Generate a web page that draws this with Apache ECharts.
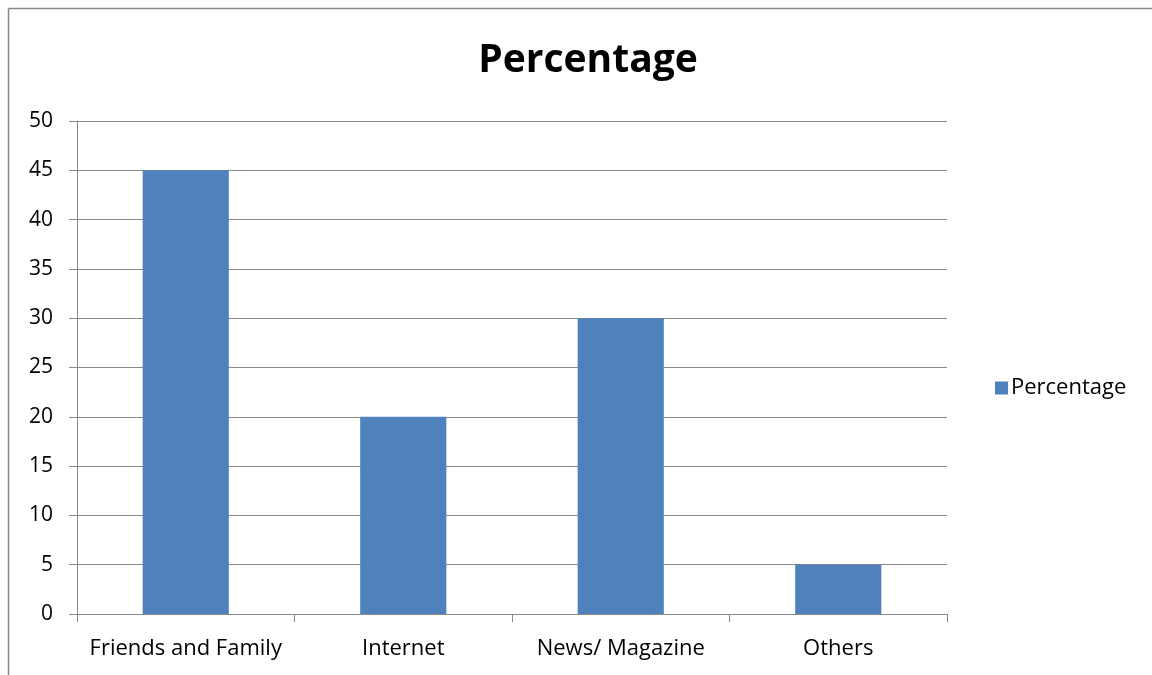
<!DOCTYPE html>
<html><head><meta charset="utf-8">
<script src="https://cdn.jsdelivr.net/npm/echarts@6/dist/echarts.min.js"></script>
<style>html,body{margin:0;padding:0;background:#fff}#c{width:1152px;height:675px}</style>
</head><body><div id="c"></div>
<script>
const categories = ["Friends and Family", "Internet", "News/ Magazine", "Others"];
const percentage = [45, 20, 30, 5];
const seriesName = "Percentage";
const titleText = "Percentage";

const chart = echarts.init(document.getElementById('c'), null, {renderer: 'canvas'});
const FONT = '"Open Sans", Lato, sans-serif';
const GRAY = '#888888';
chart.setOption({
  animation: false,
  backgroundColor: '#ffffff',
  textStyle: {fontFamily: FONT},
  title: {
    text: titleText, left: 583, top: 36, textAlign: 'center',
    textStyle: {fontSize: 39, fontWeight: 'bold', color: '#000', fontFamily: FONT}
  },
  legend: {
    data: [seriesName], left: 990, top: 372, orient: 'vertical',
    icon: 'rect', itemWidth: 13, itemHeight: 13, itemGap: 8,
    textStyle: {fontSize: 22, color: '#000', fontFamily: FONT, padding: [0,0,0,-2]}
  },
  grid: {left: 77, right: 1152 - 947, top: 121, bottom: 675 - 614, containLabel: false},
  xAxis: {
    type: 'category', data: categories,
    axisLine: {lineStyle: {color: GRAY, width: 1}},
    axisTick: {show: true, length: 8, inside: false, alignWithLabel: false, lineStyle: {color: GRAY}},
    axisLabel: {fontSize: 22, color: '#000', margin: 24, interval: 0, fontFamily: FONT},
    splitLine: {show: false}
  },
  yAxis: {
    type: 'value', min: 0, max: 50, interval: 5,
    axisLine: {show: true, lineStyle: {color: GRAY, width: 1}},
    axisTick: {show: true, length: 8, lineStyle: {color: GRAY}},
    axisLabel: {fontSize: 21, color: '#000', margin: 24, fontFamily: FONT},
    splitLine: {show: true, lineStyle: {color: GRAY, width: 1}}
  },
  series: [{
    name: seriesName, type: 'bar', data: percentage,
    barWidth: '39.6%',
    itemStyle: {color: '#4f81bd'}
  }],
  graphic: [
    {type: 'line', shape: {x1: 8.5, y1: 8.5, x2: 1152, y2: 8.5}, style: {stroke: GRAY, lineWidth: 1.5}},
    {type: 'line', shape: {x1: 8.5, y1: 8.5, x2: 8.5, y2: 675}, style: {stroke: GRAY, lineWidth: 1.5}}
  ]
});
</script></body></html>
